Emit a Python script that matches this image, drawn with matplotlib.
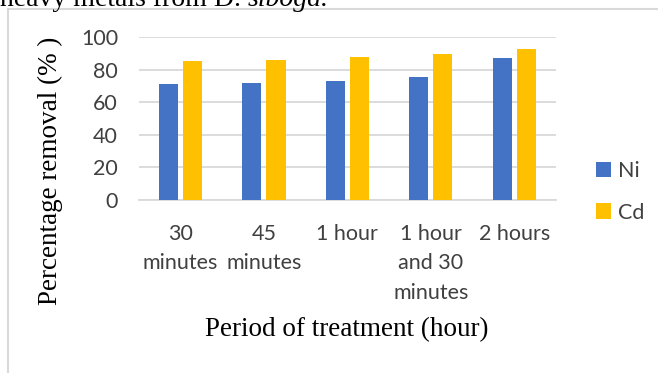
import numpy as np
import matplotlib.pyplot as plt
from matplotlib.patches import Rectangle

periods = ["30\nminutes", "45\nminutes", "1 hour", "1 hour\nand 30\nminutes", "2 hours"]
ni = [71.0, 71.8, 73.2, 75.5, 87.1]
cd = [85.3, 86.0, 87.7, 89.8, 92.6]
yticks = [0, 20, 40, 60, 80, 100]

blue = "#4472C4"
gold = "#FFC000"
tick_font = "Lato"
serif = "Liberation Serif"

fig = plt.figure(figsize=(6.58, 3.73), dpi=100)
ax = fig.add_axes([0.211, 0.464, 0.634, 0.437])

# chart frame around the plot
fig.patches.append(Rectangle((7.5 / 658, -0.1), 1.0, 1.1 - 9.5 / 373,
                             transform=fig.transFigure, fill=False,
                             edgecolor="#D9D9D9", linewidth=1.5))

# cut-off caption line above the chart
renderer = fig.canvas.get_renderer()
cap = fig.text(0.0, 1 - 5.5 / 373, "heavy metals from D. ", fontsize=20, family=serif,
               va="baseline", ha="left")
bb = cap.get_window_extent(renderer)
fig.text(bb.x1 / 658, 1 - 5.5 / 373, "siboga.", fontsize=20, family=serif,
         style="italic", va="baseline", ha="left")

x = np.arange(len(periods))
w = 0.228
gap = 0.06
ax.bar(x - (w + gap) / 2, ni, w, color=blue, label="Ni", zorder=3)
ax.bar(x + (w + gap) / 2, cd, w, color=gold, label="Cd", zorder=3)

ax.set_xlim(-0.5, len(periods) - 0.5)
ax.set_ylim(0, 100)
ax.set_yticks(yticks)
ax.yaxis.grid(True, color="#D9D9D9", linewidth=1.3, zorder=0)
ax.set_axisbelow(True)
for s in ["top", "right", "left"]:
    ax.spines[s].set_visible(False)
ax.spines["bottom"].set_color("#D9D9D9")
ax.spines["bottom"].set_linewidth(1.3)
ax.tick_params(length=0, labelsize=15.5, colors="#404040")
ax.tick_params(axis="x", pad=17)
ax.tick_params(axis="y", pad=15)
ax.set_xticks(x)
ax.set_xticklabels(periods, fontsize=15.5, family=tick_font, color="#404040",
                   linespacing=1.6)
for lab in ax.get_yticklabels():
    lab.set_family(tick_font)

fig.text(50 / 658, 1 - 171 / 373, "Percentage removal (% )", family=serif,
         fontsize=19.5, rotation=90, ha="center", va="center")
fig.text(347 / 658, 1 - 330 / 373, "Period of treatment (hour)", family=serif,
         fontsize=19.5, ha="center", va="center")

leg = ax.legend(loc="center left", bbox_to_anchor=(1.05, 0.05), frameon=False,
                prop={"family": tick_font, "size": 15.5}, labelcolor="#404040",
                handlelength=0.7, handleheight=0.7, handletextpad=0.3,
                labelspacing=1.0)

fig.savefig("out.png", dpi=100)
